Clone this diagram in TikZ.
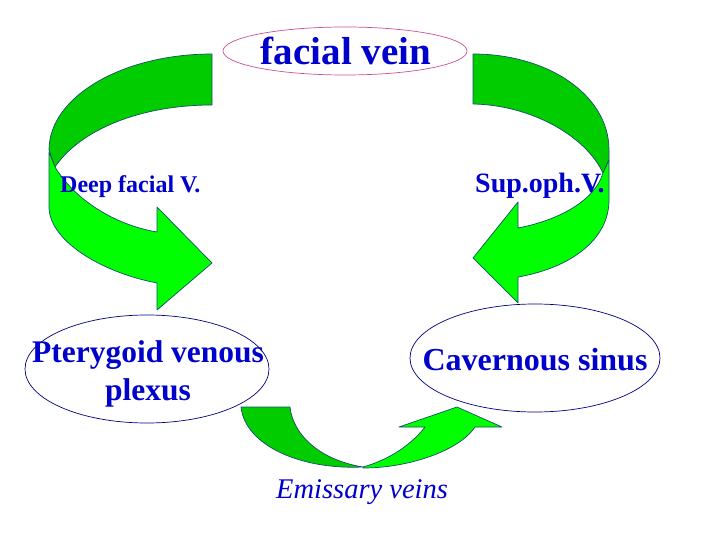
\documentclass[tikz,border=0pt]{standalone}
\usepackage{fontspec}
\setmainfont{Liberation Serif}
\usepackage{tikz}
\usetikzlibrary{shapes.geometric}
\definecolor{backgreen}{RGB}{0,204,0}
\definecolor{frontgreen}{RGB}{0,255,0}
\definecolor{rim}{RGB}{20,80,100}
\definecolor{txtblue}{RGB}{0,0,204}
\definecolor{navyline}{RGB}{0,0,128}
\definecolor{pinkline}{RGB}{204,80,150}

\begin{document}
\begin{tikzpicture}[x=1pt,y=-1pt,
  back/.style={fill=backgreen,draw=rim,line width=0.7pt,line join=round},
  front/.style={fill=frontgreen,draw=rim,line width=0.7pt,line join=round},
  vein/.style={ellipse,draw=navyline,line width=0.7pt,inner sep=0pt},
  lbl/.style={text=txtblue,inner sep=0pt,anchor=base}]
  \fill[white] (0,0) rectangle (720,540);
  \useasboundingbox (0,0) rectangle (720,540);
  % left curved arrow
  \draw[back] (212,54) .. controls (122,54) and (49,97) .. (49,150) -- (55,167)
    .. controls (80,130) and (140,105) .. (212,105) -- cycle;
  \draw[front] (49,152) -- (49,207) .. controls (49,240) and (100,272) .. (157,283) -- (157,310)
    -- (212,263) -- (157,207) -- (157,232) .. controls (115,225) and (75,200) .. (55,167) -- cycle;
  % right curved arrow
  \draw[back] (473,54) .. controls (548,54) and (609,95) .. (609,150) -- (609,160) -- (603,173)
    .. controls (585,135) and (530,105) .. (473,104) -- cycle;
  \draw[front] (609,160) -- (609,200) .. controls (609,240) and (570,268) .. (518,277) -- (518,303)
    -- (473,258) -- (518,202) -- (518,228) .. controls (560,220) and (595,200) .. (603,173) -- cycle;
  % bottom u-turn arrow
  \draw[back] (241,407) -- (290,407) .. controls (293,435) and (320,460) .. (363,467)
    .. controls (300,470) and (245,445) .. (241,407) -- cycle;
  \draw[front] (363,468) .. controls (410,468) and (460,450) .. (475,427) -- (502,427) -- (457,407)
    -- (399,427) -- (425,427) .. controls (415,440) and (395,458) .. (363,467) -- cycle;
  % veins
  \node[vein,draw=pinkline,minimum width=244pt,minimum height=48pt] (facial) at (345,51) {};
  \node[vein,minimum width=244pt,minimum height=108pt] (ptg) at (147,369) {};
  \node[vein,minimum width=250pt,minimum height=108pt] (cav) at (535,358) {};
  \node[lbl,font=\bfseries\fontsize{39}{47}\selectfont] (facialtxt) at (346,65) {facial vein};
  \node[lbl,align=center,font=\bfseries\fontsize{31.5}{38}\selectfont] (ptgtxt) at (148,400) {Pterygoid venous\\plexus};
  \node[lbl,font=\bfseries\fontsize{32}{38}\selectfont] (cavtxt) at (535,370) {Cavernous sinus};
  \node[lbl,anchor=base west,font=\bfseries\fontsize{24}{28}\selectfont] (deeptxt) at (60,193) {Deep facial V.};
  \node[lbl,anchor=base west,font=\bfseries\fontsize{28}{34}\selectfont] (suptxt) at (475,193) {Sup.oph.V.};
  \node[lbl,anchor=base west,font=\itshape\fontsize{28.5}{34}\selectfont] (emtxt) at (276,498) {Emissary veins};
\end{tikzpicture}
\end{document}
